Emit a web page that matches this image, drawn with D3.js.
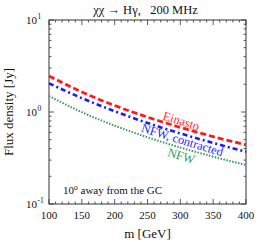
<!DOCTYPE html>
<html><head><meta charset="utf-8">
<script src="https://cdn.jsdelivr.net/npm/d3@7"></script>
<style>body{margin:0;background:#fff}svg{display:block}text{font-family:"Liberation Serif","DejaVu Serif",serif}</style>
</head><body>
<svg id="c" width="258" height="242"></svg>
<script>
const masses = [100,150,200,250,300,350,400];
const einasto = [2.46,1.65,1.175,0.88,0.68,0.54,0.44];
const nfwContracted = [2.05,1.415,1.02,0.76,0.585,0.461,0.37];
const nfw = [1.49,0.995,0.71,0.531,0.411,0.327,0.265];
const xTicks = [100,150,200,250,300,350,400];
const yDecades = [-1,0,1];

const svg = d3.select("#c");
const L=49,T=20,W=197,H=184;
const x = d3.scaleLinear().domain([100,400]).range([L,L+W]);
const y = d3.scaleLog().domain([0.1,10]).range([T+H,T]);
const frame="#333";

const g = svg.append("g");
const xMinor = d3.range(100,401,10);
xMinor.forEach(v=>{
  const len = v%50===0?5:2.5;
  g.append("line").attr("x1",x(v)).attr("x2",x(v)).attr("y1",T+H).attr("y2",T+H-len).attr("stroke",frame).attr("stroke-width",0.8);
  g.append("line").attr("x1",x(v)).attr("x2",x(v)).attr("y1",T).attr("y2",T+len).attr("stroke",frame).attr("stroke-width",0.8);
});
const yMinor=[];
[0.1,1].forEach(b=>{for(let k=1;k<=9;k++)yMinor.push(b*k);});
yMinor.push(10);
yMinor.forEach(v=>{
  const major = Math.abs(Math.log10(v)-Math.round(Math.log10(v)))<1e-9;
  const len = major?5:2.5;
  g.append("line").attr("x1",L).attr("x2",L+len).attr("y1",y(v)).attr("y2",y(v)).attr("stroke",frame).attr("stroke-width",0.8);
  g.append("line").attr("x1",L+W).attr("x2",L+W-len).attr("y1",y(v)).attr("y2",y(v)).attr("stroke",frame).attr("stroke-width",0.8);
});
svg.append("rect").attr("x",L).attr("y",T).attr("width",W).attr("height",H).attr("fill","none").attr("stroke",frame).attr("stroke-width",1);

xTicks.forEach(v=>{
  svg.append("text").attr("x",x(v)).attr("y",T+H+15).attr("text-anchor","middle").attr("font-size",11).attr("fill","#111").text(v);
});
yDecades.forEach(e=>{
  svg.append("text").attr("x",37).attr("y",y(Math.pow(10,e))+4).attr("text-anchor","end").attr("font-size",11).attr("fill","#111").text("10");
  svg.append("text").attr("x",37.5).attr("y",y(Math.pow(10,e))-1).attr("text-anchor","start").attr("font-size",7.5).attr("fill","#111").text(e);
});

svg.append("text").attr("x",L+W/2).attr("y",238).attr("text-anchor","middle").attr("font-size",13).attr("fill","#111").text("m [GeV]");
svg.append("text").attr("transform",`translate(13,${T+H/2}) rotate(-90)`).attr("text-anchor","middle").attr("font-size",13).attr("fill","#111").text("Flux density [Jy]");
svg.append("text").attr("x",L+W/2-2).attr("y",14).attr("text-anchor","middle").attr("font-size",12.5).attr("fill","#111").text("χχ → Hγ,\u00a0\u00a0\u00a0200 MHz");

const line = d3.line().x(d=>x(d[0])).y(d=>y(d[1])).curve(d3.curveMonotoneX);
const series = [
  {v:nfw, c:"#3a9a5c", w:2, dash:"1.5,1.5"},
  {v:nfwContracted, c:"#1a1aff", w:2.6, dash:"5,3,2,3"},
  {v:einasto, c:"#ff1a1a", w:2.8, dash:"6,3"}
];
series.forEach(s=>{
  svg.append("path").attr("d",line(masses.map((m,i)=>[m,s.v[i]]))).attr("fill","none").attr("stroke",s.c).attr("stroke-width",s.w).attr("stroke-dasharray",s.dash);
});

svg.append("text").attr("transform","translate(180,125) rotate(17)").attr("text-anchor","middle").attr("font-size",12.5).attr("fill","#ff3030").text("Einasto");
svg.append("text").attr("transform","translate(181,144) rotate(17)").attr("text-anchor","middle").attr("font-size",12.5).attr("fill","#2a2aff").text("NFW, contracted");
svg.append("text").attr("transform","translate(180,160) rotate(17)").attr("text-anchor","middle").attr("font-size",12.5).attr("fill","#3a9a5c").text("NFW");

const a = svg.append("text").attr("x",63).attr("y",194).attr("font-size",11).attr("fill","#111");
a.append("tspan").text("10");
a.append("tspan").attr("dy",-4).attr("font-size",7.5).text("o");
a.append("tspan").attr("dy",4).text(" away from the GC");
</script>
</body></html>
